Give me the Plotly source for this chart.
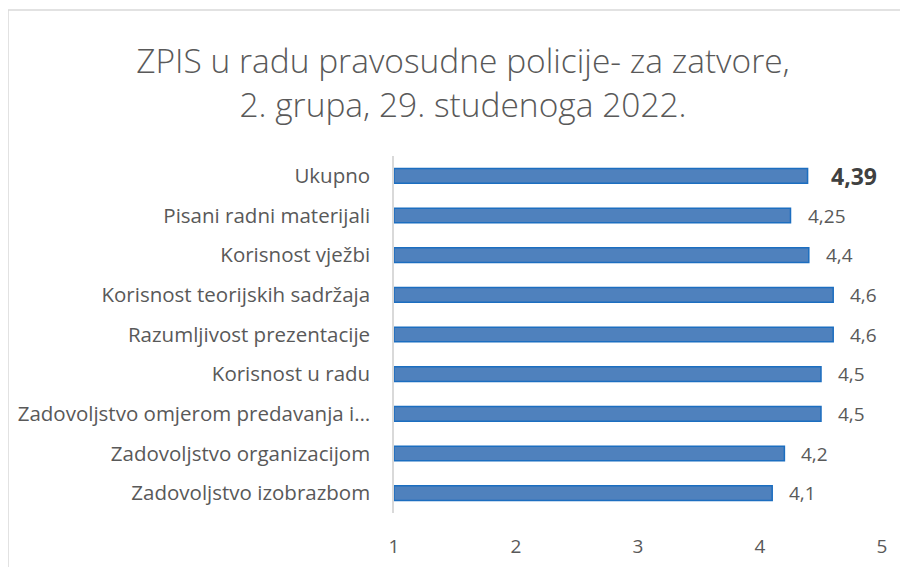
import plotly.graph_objects as go

categories = [
    "Ukupno",
    "Pisani radni materijali",
    "Korisnost vježbi",
    "Korisnost teorijskih sadržaja",
    "Razumljivost prezentacije",
    "Korisnost u radu",
    "Zadovoljstvo omjerom predavanja i…",
    "Zadovoljstvo organizacijom",
    "Zadovoljstvo izobrazbom",
]
values = [4.39, 4.25, 4.4, 4.6, 4.6, 4.5, 4.5, 4.2, 4.1]
labels = ["4,39", "4,25", "4,4", "4,6", "4,6", "4,5", "4,5", "4,2", "4,1"]
tick_vals = [1, 2, 3, 4, 5]
tick_text = ["1", "2", "3", "4", "5"]

FONT = "Open Sans"
GREY = "#595959"

fig = go.Figure()
fig.add_trace(go.Bar(
    y=categories,
    x=[v - 1 for v in values],
    base=1,
    orientation="h",
    width=0.37,
    marker=dict(color="#4F81BD", line=dict(color="#1C6EC0", width=1.5)),
    hoverinfo="skip",
))

annotations = []
for i, (c, v, t) in enumerate(zip(categories, values, labels)):
    bold = i == 0
    annotations.append(dict(
        x=v, y=c, xref="x", yref="y",
        text=f"<b>{t}</b>" if bold else t,
        showarrow=False, xanchor="left", xshift=21 if bold else 15,
        font=dict(family=FONT, size=23 if bold else 19, color="#404040" if bold else GREY),
    ))

L, R, T, B = 386, 34, 148, 62
PW = 908 - L - R
PH = 567 - T - B

fig.update_layout(
    width=908, height=567,
    margin=dict(l=L, r=R, t=T, b=B, autoexpand=False),
    paper_bgcolor="white", plot_bgcolor="white",
    showlegend=False,
    title=dict(
        text="ZPIS u radu pravosudne policije- za zatvore,<br>2. grupa, 29. studenoga 2022.",
        x=455 / 908, xanchor="center", y=1 - 65 / 567, yanchor="middle",
        font=dict(family=FONT, size=33.5, color=GREY, weight=300),
    ),
    xaxis=dict(
        range=[1, 5], tickvals=tick_vals, ticktext=tick_text,
        showgrid=False, zeroline=False, showline=False, automargin=False,
        tickfont=dict(family=FONT, size=19, color=GREY),
        ticklabelstandoff=20,
    ),
    yaxis=dict(
        autorange="reversed", showgrid=False, zeroline=False, automargin=False,
        showline=True, linecolor="#D9D9D9", linewidth=1.5,
        ticks="", tickfont=dict(family=FONT, size=20.5, color=GREY),
        ticklabelstandoff=18,
    ),
    annotations=annotations,
    shapes=[dict(
        type="rect", xref="paper", yref="paper",
        x0=(0 - L) / PW, x1=(910 - L) / PW,
        y0=-0.2, y1=(T + PH - 2) / PH,
        line=dict(color="#D9D9D9", width=1.5), fillcolor="rgba(0,0,0,0)",
        layer="below",
    )],
)

fig.write_html("out.html")
